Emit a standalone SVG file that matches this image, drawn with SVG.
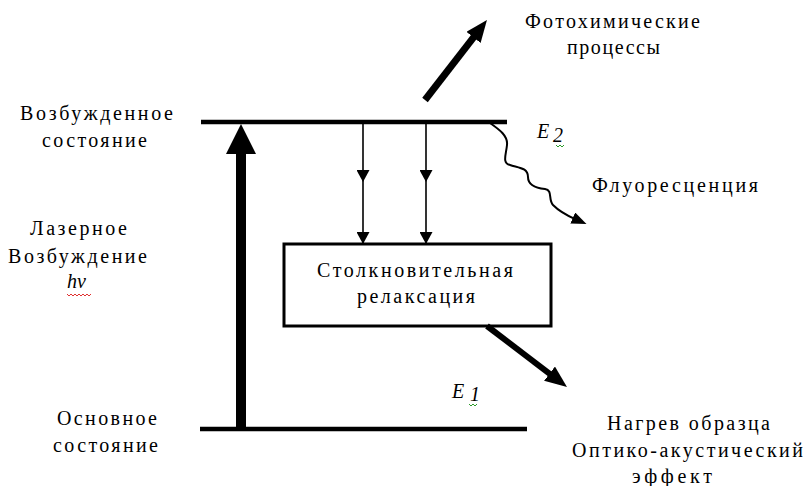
<svg xmlns="http://www.w3.org/2000/svg" width="808" height="486" viewBox="0 0 808 486">
<defs>
<style>
text{font-family:"Liberation Serif","Times New Roman",serif;font-size:20px;fill:#000}
.it{font-style:italic}
.lvl{stroke:#000;stroke-width:4.5;fill:none}
.thin{stroke:#000;stroke-width:1.6;fill:none}
.wave{stroke:#000;stroke-width:2;fill:none}
.thick{stroke:#000;fill:none}
.box{fill:#fff;stroke:#000;stroke-width:3}
.sq{stroke-width:1;fill:none}
</style>
<marker id="hThin" markerUnits="userSpaceOnUse" markerWidth="12" markerHeight="13" refX="12" refY="6.5" orient="auto"><path d="M0,0 L12,6.5 L0,13 z" fill="#000"/></marker>
<marker id="hMid" markerUnits="userSpaceOnUse" markerWidth="22" markerHeight="18" refX="2" refY="9" orient="auto"><path d="M0,0 L22,9 L0,18 z" fill="#000"/></marker>
<marker id="hBig" markerUnits="userSpaceOnUse" markerWidth="30" markerHeight="30" refX="2" refY="15" orient="auto"><path d="M0,0 L30,15 L0,30 z" fill="#000"/></marker>
<marker id="hWave" markerUnits="userSpaceOnUse" markerWidth="15" markerHeight="12" refX="2" refY="6" orient="auto"><path d="M0,0 L15,6 L0,12 z" fill="#000"/></marker>
</defs>
<rect width="808" height="486" fill="#fff"/>

<g id="excited-level">
<line class="lvl" x1="201" y1="122" x2="507" y2="122"/>
<text x="20" y="120" textLength="153" lengthAdjust="spacing">Возбужденное</text>
<text x="42" y="147" textLength="105" lengthAdjust="spacing">состояние</text>
<text class="it" x="537" y="138" font-size="22">E</text>
<text class="it" x="553" y="142" font-size="15">2</text>
<path class="sq" d="M556,145 l2,2 l2,-2 l2,2 l2,-2" stroke="#2a9a2a"/>
</g>

<g id="ground-level">
<line class="lvl" x1="200" y1="429" x2="527" y2="429"/>
<text x="57" y="425" textLength="100" lengthAdjust="spacing">Основное</text>
<text x="53" y="452" textLength="105" lengthAdjust="spacing">состояние</text>
<text class="it" x="452" y="398" font-size="22">E</text>
<text class="it" x="470" y="401" font-size="15">1</text>
<path class="sq" d="M469,404 l2,2 l2,-2 l2,2 l2,-2" stroke="#2a9a2a"/>
</g>

<g id="laser-label">
<text x="30" y="235" textLength="97" lengthAdjust="spacing">Лазерное</text>
<text x="8" y="263" textLength="139" lengthAdjust="spacing">Возбуждение</text>
<text class="it" x="67" y="288" font-size="23">hν</text>
<path class="sq" d="M67,294 l2,2 l2,-2 l2,2 l2,-2 l2,2 l2,-2 l2,2 l2,-2 l2,2 l2,-2 l2,2 l2,-2" stroke="#e03030"/>
</g>

<g id="relaxation-box">
<rect class="box" x="284" y="244" width="267" height="82"/>
<text x="317" y="277" textLength="196" lengthAdjust="spacing">Столкновительная</text>
<text x="357" y="303" textLength="118" lengthAdjust="spacing">релаксация</text>
</g>

<g id="photochem">
<text x="525" y="28" textLength="175" lengthAdjust="spacing">Фотохимические</text>
<text x="567" y="54" textLength="93" lengthAdjust="spacing">процессы</text>
</g>

<g id="fluorescence">
<text x="592" y="192" textLength="166" lengthAdjust="spacing">Флуоресценция</text>
</g>

<g id="heating">
<text x="607" y="430" textLength="163" lengthAdjust="spacing">Нагрев образца</text>
<text x="572" y="457" textLength="231" lengthAdjust="spacing">Оптико-акустический</text>
<text x="632" y="483" textLength="80" lengthAdjust="spacing">эффект</text>
</g>

<g id="connectors">
<line class="thick" x1="241" y1="431" x2="241" y2="152" stroke-width="10" marker-end="url(#hBig)"/>
<line class="thin" x1="363" y1="124" x2="363" y2="182" marker-end="url(#hThin)"/>
<line class="thin" x1="363" y1="182" x2="363" y2="244" marker-end="url(#hThin)"/>
<line class="thin" x1="426" y1="124" x2="426" y2="182" marker-end="url(#hThin)"/>
<line class="thin" x1="426" y1="182" x2="426" y2="244" marker-end="url(#hThin)"/>
<line class="thick" x1="425" y1="100" x2="474.7" y2="35.8" stroke-width="7" marker-end="url(#hMid)"/>
<line class="thick" x1="487" y1="326" x2="551.1" y2="374.9" stroke-width="6" marker-end="url(#hMid)"/>
<path class="wave" d="M490,123 C500,130 508,136 507,145 C506,155 502,163 510,165 C520,168 528,168 528,177 C528,185 535,188 545,189 C553,190 548,200 553,205 C558,210 566,215 574.6,218.8" marker-end="url(#hWave)"/>
</g>
</svg>
